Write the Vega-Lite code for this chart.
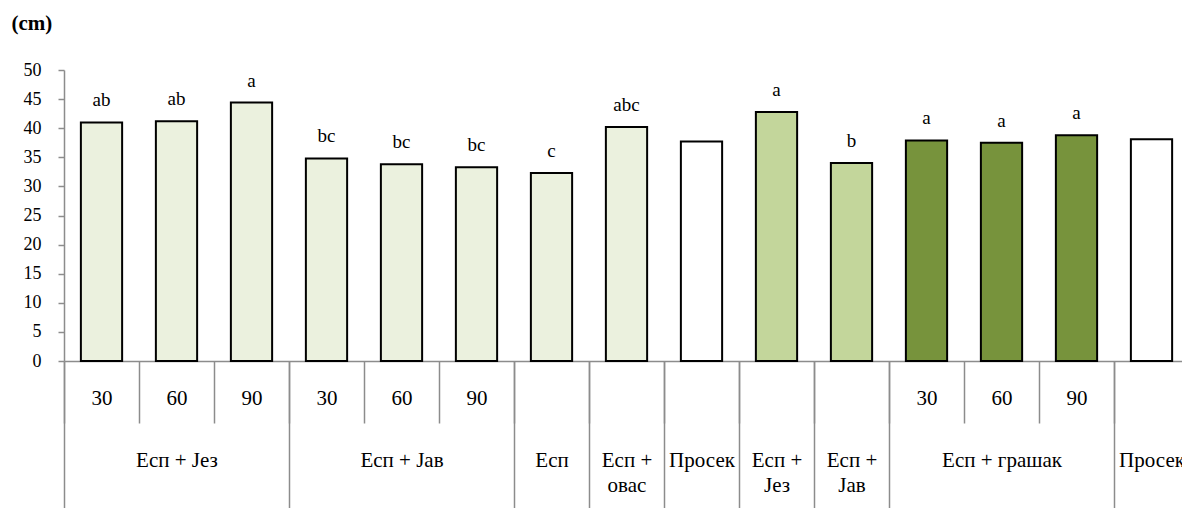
{
  "$schema": "https://vega.github.io/schema/vega-lite/v6.json",
  "width": 1125,
  "height": 291,
  "autosize": {"type": "none"},
  "padding": {"left": 64, "top": 70, "right": 0, "bottom": 147},
  "background": "white",
  "config": {"view": {"stroke": null}, "font": "Times New Roman, Liberation Serif, serif"},
  "data": {
    "values": [
      {"category": "01|Есп + Јез|30", "height": 41.0, "sig": "ab", "series": "s1"},
      {"category": "02|Есп + Јез|60", "height": 41.2, "sig": "ab", "series": "s1"},
      {"category": "03|Есп + Јез|90", "height": 44.4, "sig": "a", "series": "s1"},
      {"category": "04|Есп + Јав|30", "height": 34.8, "sig": "bc", "series": "s1"},
      {"category": "05|Есп + Јав|60", "height": 33.8, "sig": "bc", "series": "s1"},
      {"category": "06|Есп + Јав|90", "height": 33.3, "sig": "bc", "series": "s1"},
      {"category": "07|Есп|", "height": 32.3, "sig": "c", "series": "s1"},
      {"category": "08|Есп + овас|", "height": 40.2, "sig": "abc", "series": "s1"},
      {"category": "09|Просек|", "height": 37.7, "sig": "", "series": "avg"},
      {"category": "10|Есп + Јез|", "height": 42.8, "sig": "a", "series": "s2"},
      {"category": "11|Есп + Јав|", "height": 34.0, "sig": "b", "series": "s2"},
      {"category": "12|Есп + грашак|30", "height": 37.9, "sig": "a", "series": "s3"},
      {"category": "13|Есп + грашак|60", "height": 37.5, "sig": "a", "series": "s3"},
      {"category": "14|Есп + грашак|90", "height": 38.8, "sig": "a", "series": "s3"},
      {"category": "15|Просек|", "height": 38.1, "sig": "", "series": "avg"}
    ]
  },
  "encoding": {
    "y": {
      "field": "height",
      "type": "quantitative",
      "scale": {"domain": [0, 50]},
      "axis": {
        "title": "(cm)",
        "titleAngle": 0,
        "titleX": -53,
        "titleY": -47,
        "titleAlign": "left",
        "titleBaseline": "middle",
        "titleFont": "Times New Roman, Liberation Serif, serif",
        "titleFontSize": 21,
        "titleFontWeight": "bold",
        "titleColor": "black",
        "values": [0, 5, 10, 15, 20, 25, 30, 35, 40, 45, 50],
        "grid": false,
        "domainColor": "#8C8C8C",
        "domainWidth": 1.5,
        "tickColor": "#8C8C8C",
        "tickWidth": 1.5,
        "tickSize": 6,
        "labelFont": "Times New Roman, Liberation Serif, serif",
        "labelFontSize": 18,
        "labelColor": "black",
        "labelPadding": 17
      }
    }
  },
  "layer": [
    {
      "mark": {"type": "bar", "stroke": "black", "strokeWidth": 2, "width": {"band": 0.55}},
      "encoding": {
        "x": {
          "field": "category",
          "type": "nominal",
          "sort": null,
          "scale": {"paddingInner": 0, "paddingOuter": 0},
          "axis": {
            "orient": "bottom",
            "title": null,
            "domainColor": "#8C8C8C",
            "domainWidth": 1.5,
            "tickBand": "extent",
            "tickSize": 62,
            "tickColor": "#8C8C8C",
            "tickWidth": 1.5,
            "labelExpr": "isValid(datum.value) ? split(datum.value, '|')[2] : ''",
            "labelAngle": 0,
            "labelFont": "Times New Roman, Liberation Serif, serif",
            "labelFontSize": 21,
            "labelColor": "black",
            "labelBaseline": "alphabetic",
            "labelPadding": -19
          }
        },
        "fill": {
          "field": "series",
          "type": "nominal",
          "scale": {"domain": ["s1", "s2", "s3", "avg"], "range": ["#EBF1DE", "#C3D69B", "#77933C", "#FFFFFF"]},
          "legend": null
        }
      }
    },
    {
      "mark": {"type": "text", "baseline": "alphabetic", "dy": -16, "fontSize": 19, "font": "Times New Roman, Liberation Serif, serif", "color": "black"},
      "encoding": {
        "x": {
          "field": "category",
          "type": "nominal",
          "sort": null,
          "axis": {
            "orient": "bottom",
            "title": null,
            "domain": false,
            "tickBand": "extent",
            "tickSize": 150,
            "tickColor": "#8C8C8C",
            "tickWidth": 1.5,
            "tickOpacity": {
              "condition": {"test": "!isValid(datum.value) || split(datum.value, '|')[2] == '' || split(datum.value, '|')[2] == '90'", "value": 1},
              "value": 0
            },
            "labelExpr": "isValid(datum.value) ? (split(datum.value, '|')[2] == '60' ? split(datum.value, '|')[1] : (split(datum.value, '|')[2] == '' ? split(replace(split(datum.value, '|')[1], ' + ', ' +|'), '|') : '')) : ''",
            "labelAngle": 0,
            "labelFont": "Times New Roman, Liberation Serif, serif",
            "labelFontSize": 21,
            "labelColor": "black",
            "labelBaseline": "alphabetic",
            "labelPadding": -45,
            "labelLineHeight": 25
          }
        },
        "text": {"field": "sig"}
      }
    }
  ],
  "resolve": {"axis": {"x": "independent"}}
}
